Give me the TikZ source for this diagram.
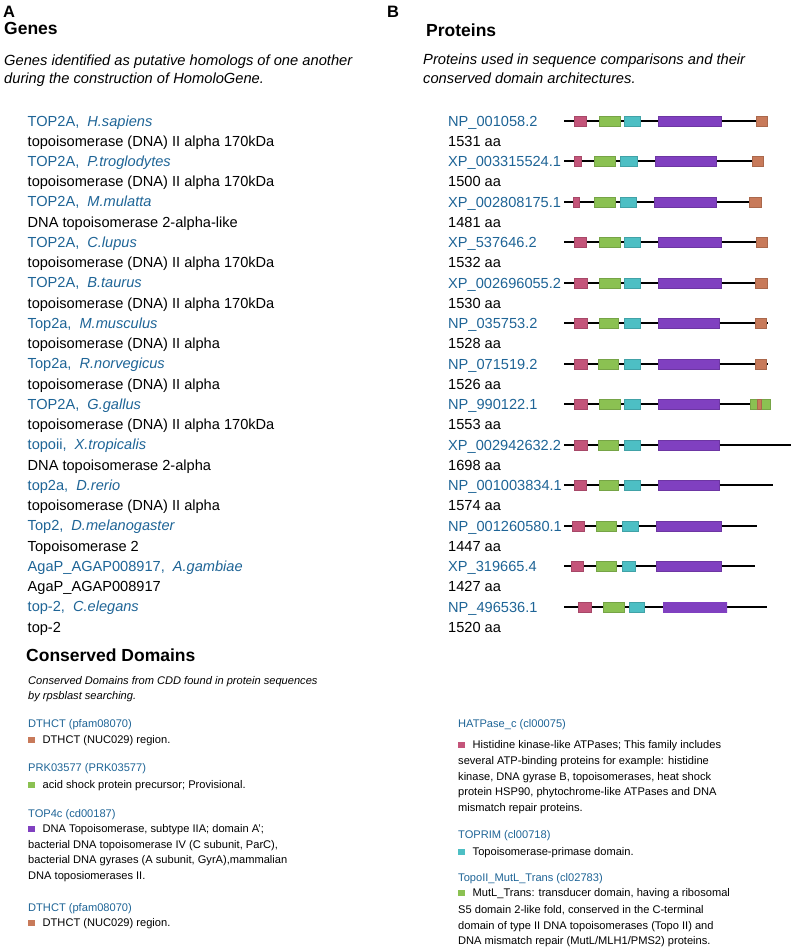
\documentclass[tikz,border=0pt]{standalone}
\usepackage{fontspec}
\setmainfont{Liberation Sans}
\definecolor{linkblue}{HTML}{1E6496}
\definecolor{hatp}{HTML}{C4557A}
\definecolor{mutl}{HTML}{8BC152}
\definecolor{toprim}{HTML}{4DBFC4}
\definecolor{topfour}{HTML}{8040C0}
\definecolor{dthct}{HTML}{C87A5A}
% small coloured square in front of a domain description
\newcommand{\cdsq}[1]{\textcolor{#1}{\rule[0.5pt]{7pt}{6pt}}\hspace{7.5pt}}

\begin{document}
\begin{tikzpicture}[x=1pt, y=-1pt, every node/.style={anchor=base west, inner sep=0pt},
    panel/.style={font=\fontsize{16.5}{19}\selectfont\bfseries},
    head/.style={font=\fontsize{17.5}{20}\selectfont\bfseries},
    intro/.style={font=\fontsize{14.7}{17}\selectfont\itshape},
    gname/.style={font=\fontsize{14.6}{17}\selectfont, text=linkblue},
    gdesc/.style={font=\fontsize{14.6}{17}\selectfont},
    cdintro/.style={font=\fontsize{11.1}{13}\selectfont\itshape},
    cdname/.style={font=\fontsize{11.1}{13}\selectfont, text=linkblue},
    cdtext/.style={font=\fontsize{11.1}{13}\selectfont},
    backbone/.style={line width=2.4pt, black}]
  \useasboundingbox (0,0) rectangle (796,951);

  % panel A
  \node[panel] (pa) at (3,17) {A};
  \node[head] (genes) at (4,34) {Genes};
  \node[intro] (gi1) at (4,65) {Genes identified as putative homologs of one another};
  \node[intro] (gi2) at (4,83.5) {during the construction of HomoloGene.};
  \foreach \g/\sp/\desc [count=\i from 0] in {
      TOP2A/H.sapiens/{topoisomerase (DNA) II alpha 170kDa},
      TOP2A/P.troglodytes/{topoisomerase (DNA) II alpha 170kDa},
      TOP2A/M.mulatta/{DNA topoisomerase 2-alpha-like},
      TOP2A/C.lupus/{topoisomerase (DNA) II alpha 170kDa},
      TOP2A/B.taurus/{topoisomerase (DNA) II alpha 170kDa},
      Top2a/M.musculus/{topoisomerase (DNA) II alpha},
      Top2a/R.norvegicus/{topoisomerase (DNA) II alpha},
      TOP2A/G.gallus/{topoisomerase (DNA) II alpha 170kDa},
      topoii/X.tropicalis/{DNA topoisomerase 2-alpha},
      top2a/D.rerio/{topoisomerase (DNA) II alpha},
      Top2/D.melanogaster/{Topoisomerase 2},
      AgaP\_AGAP008917/A.gambiae/{AgaP\_AGAP008917},
      top-2/C.elegans/{top-2}}{
    \node[gname] (gn\i) at (27.5,{126+40.48*\i}) {\g,\hskip0.55em\textit{\sp}};
    \node[gdesc] (gd\i) at (27.5,{146.24+40.48*\i}) {\desc};
  }

  % panel B
  \node[panel] (pb) at (387,17) {B};
  \node[head] (prot) at (426,36.5) {Proteins};
  \node[intro] (pi1) at (423,64.5) {Proteins used in sequence comparisons and their};
  \node[intro] (pi2) at (423,83.5) {conserved domain architectures.};
  \foreach \n/\acc/\len/\e/\doms in {
      0/NP\_001058.2/1531/768/{hatp/574/586,mutl/599/620,toprim/624/640,topfour/658/721,dthct/756/767},
      1/XP\_003315524.1/1500/764/{hatp/574/581,mutl/594/615,toprim/620/637,topfour/655/716,dthct/752/763},
      2/XP\_002808175.1/1481/761/{hatp/573/579,mutl/594/615,toprim/620/636,topfour/654/716,dthct/749/761},
      3/XP\_537646.2/1532/768/{hatp/574/586,mutl/599/620,toprim/624/640,topfour/658/721,dthct/756/767},
      4/XP\_002696055.2/1530/768/{hatp/574/587,mutl/599/620,toprim/624/640,topfour/658/721,dthct/755/767},
      5/NP\_035753.2/1528/768/{hatp/574/587,mutl/599/618,toprim/624/640,topfour/658/719,dthct/755/766},
      6/NP\_071519.2/1526/768/{hatp/574/587,mutl/598/618,toprim/624/640,topfour/658/719,dthct/755/766},
      7/NP\_990122.1/1553/771/{hatp/574/587,mutl/599/620,toprim/624/640,topfour/658/719,mutl/750/770,dthct/757/761},
      8/XP\_002942632.2/1698/791/{hatp/574/587,mutl/598/618,toprim/624/640,topfour/658/719},
      9/NP\_001003834.1/1574/773/{hatp/574/586,mutl/599/618,toprim/624/640,topfour/658/719},
      10/NP\_001260580.1/1447/757/{hatp/572/584,mutl/596/616,toprim/622/638,topfour/656/721},
      11/XP\_319665.4/1427/755/{hatp/571/583,mutl/596/616,toprim/622/635,topfour/656/721},
      12/NP\_496536.1/1520/767/{hatp/578/591,mutl/603/624,toprim/629/644}}{
    \pgfmathsetmacro{\yc}{round(121+40.48*\n)}
    \node[gname] (acc\n) at (448,\yc+5.3) {\acc};
    \node[gdesc] (len\n) at (448,\yc+25.54) {\len\ aa};
    \coordinate (bs\n) at (564,\yc);
    \coordinate (be\n) at (\e,\yc);
    \draw[backbone] (bs\n) -- (be\n);
    \foreach \c/\a/\b in \doms {
      \filldraw[fill=\c, draw=\c!85!black, line width=0.3pt] (\a,\yc-5) rectangle (\b,\yc+5);
    }
  }
  % last purple domain has a highlight
  \shade[left color=topfour, middle color=topfour!50!white, right color=topfour]
    (663,602) rectangle (727,612);

  % conserved domains, left column
  \node[head] (cd) at (26,661.5) {Conserved Domains};
  \node[cdintro] (ci1) at (28,684) {Conserved Domains from CDD found in protein sequences};
  \node[cdintro] (ci2) at (28,699.5) {by rpsblast searching.};
  \node[cdname] (dth1) at (28,727.5) {DTHCT (pfam08070)};
  \node[cdtext] (dth1t) at (28,743) {\cdsq{dthct}DTHCT (NUC029) region.};
  \node[cdname] (prk) at (28,771) {PRK03577 (PRK03577)};
  \node[cdtext] (prkt) at (28,788) {\cdsq{mutl}acid shock protein precursor; Provisional.};
  \node[cdname] (top4) at (28,817) {TOP4c (cd00187)};
  \node[cdtext] (top4a) at (28,832) {\cdsq{topfour}DNA Topoisomerase, subtype IIA; domain A';};
  \node[cdtext] (top4b) at (28,848) {bacterial DNA topoisomerase IV (C subunit, ParC),};
  \node[cdtext] (top4c) at (28,863.5) {bacterial DNA gyrases (A subunit, GyrA),mammalian};
  \node[cdtext] (top4d) at (28,879) {DNA toposiomerases II.};
  \node[cdname] (dth2) at (28,911) {DTHCT (pfam08070)};
  \node[cdtext] (dth2t) at (28,926) {\cdsq{dthct}DTHCT (NUC029) region.};

  % conserved domains, right column
  \node[cdname] (hat) at (458,727) {HATPase\_c (cl00075)};
  \node[cdtext] (hata) at (458,748) {\cdsq{hatp}Histidine kinase-like ATPases; This family includes};
  \node[cdtext] (hatb) at (458,764) {several ATP-binding proteins for example: histidine};
  \node[cdtext] (hatc) at (458,780) {kinase, DNA gyrase B, topoisomerases, heat shock};
  \node[cdtext] (hatd) at (458,795.5) {protein HSP90, phytochrome-like ATPases and DNA};
  \node[cdtext] (hate) at (458,811) {mismatch repair proteins.};
  \node[cdname] (tpr) at (458,838) {TOPRIM (cl00718)};
  \node[cdtext] (tprt) at (458,855) {\cdsq{toprim}Topoisomerase-primase domain.};
  \node[cdname] (mtl) at (458,881) {TopoII\_MutL\_Trans (cl02783)};
  \node[cdtext] (mtla) at (458,896.5) {\cdsq{mutl}MutL\_Trans: transducer domain, having a ribosomal};
  \node[cdtext] (mtlb) at (458,913) {S5 domain 2-like fold, conserved in the C-terminal};
  \node[cdtext] (mtlc) at (458,929) {domain of type II DNA topoisomerases (Topo II) and};
  \node[cdtext] (mtld) at (458,944) {DNA mismatch repair (MutL/MLH1/PMS2) proteins.};
\end{tikzpicture}
\end{document}
